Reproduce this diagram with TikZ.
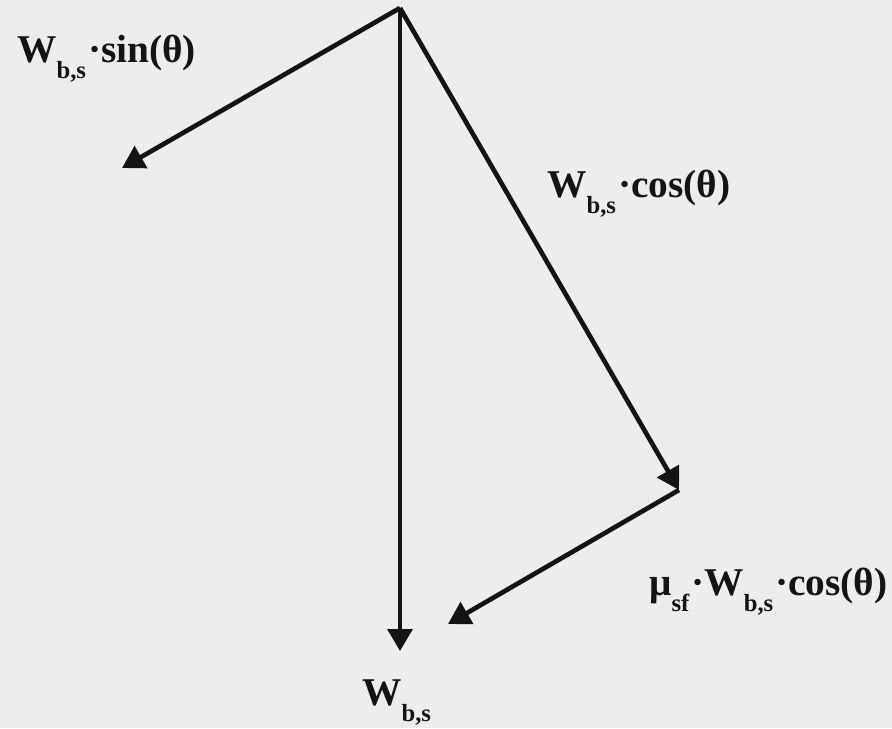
\documentclass[tikz,border=0pt]{standalone}
\usepackage{fontspec}
\setmainfont{Liberation Serif}
\usetikzlibrary{arrows.meta}
\definecolor{bg}{HTML}{EDEDED}
\definecolor{ink}{HTML}{141414}
\newcommand\Wsub{{\fontsize{29.5}{29.5}\selectfont W}\raisebox{-12pt}{\fontsize{18.5}{18.5}\selectfont b,s}}
\newcommand\musub{{\fontsize{29.5}{29.5}\selectfont μ}\raisebox{-12pt}{\fontsize{18.5}{18.5}\selectfont sf}}
\newcommand\mydot{\hspace{1.5pt}·}
\begin{document}
\begin{tikzpicture}[x=0.75pt,y=-0.75pt,
  vec/.style={draw=ink,line width=3.5pt,-{Triangle[length=16.5pt,width=18.5pt]}},
  lbl/.style={inner sep=0pt,anchor=base west,text=ink,font=\bfseries\fontsize{29.5}{29.5}\selectfont}]
\fill[bg] (0,0) rectangle (892,728);
\useasboundingbox (0,0) rectangle (892,728);
\coordinate (O) at (400,8);
\coordinate (L) at (122,168);
\coordinate (D) at (400,651);
\coordinate (R) at (679,490);
\coordinate (F) at (448,624);
\draw[vec] (O) -- (L);
\draw[vec] (O) -- (D);
\draw[vec] (O) -- (R);
\draw[vec] (R) -- (F);
\node[lbl] (t1) at (17,62) {\Wsub\mydot sin(θ)};
\node[lbl] (t2) at (547,197) {\Wsub\mydot cos(θ)};
\node[lbl] (t3) at (649,595) {\musub\mydot\Wsub\mydot cos(θ)};
\node[lbl] (t4) at (362,705) {\Wsub};
\end{tikzpicture}
\end{document}
